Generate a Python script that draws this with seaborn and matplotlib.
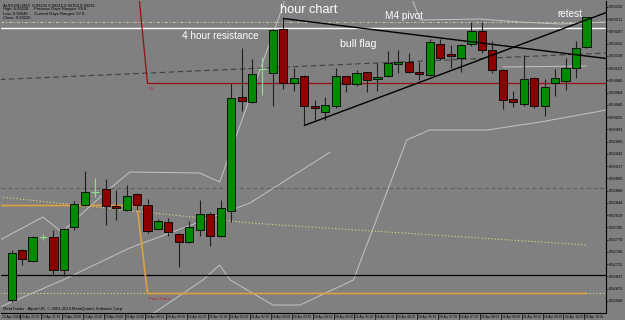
import numpy as np
import pandas as pd
import matplotlib
matplotlib.use("Agg")
import matplotlib.pyplot as plt
import matplotlib.transforms as mtransforms
import seaborn as sns

# AUDUSD M15, 23 Apr 20:45 -> 24 Apr 10:30
opens = [0.92650, 0.92750, 0.92727, 0.92775, 0.92775, 0.92709, 0.92795, 0.92840,
         0.92866, 0.92872, 0.92836, 0.92830, 0.92862, 0.92839, 0.92791, 0.92805,
         0.92781, 0.92765, 0.92789, 0.92822, 0.92778, 0.92827, 0.93055, 0.93045,
         0.93111, 0.93103, 0.93192, 0.93085, 0.93098, 0.93037, 0.93025, 0.93037,
         0.93097, 0.93082, 0.93105, 0.93091, 0.93097, 0.93121, 0.93126, 0.93105,
         0.93099, 0.93162, 0.93139, 0.93133, 0.93161, 0.93188, 0.93150, 0.93110,
         0.93051, 0.93042, 0.93093, 0.93037, 0.93083, 0.93087, 0.93113, 0.93155]
highs = [0.92750, 0.92752, 0.92777, 0.92782, 0.92789, 0.92793, 0.92847, 0.92908,
         0.92894, 0.92891, 0.92869, 0.92880, 0.92864, 0.92852, 0.92812, 0.92813,
         0.92783, 0.92808, 0.92850, 0.92826, 0.92850, 0.93085, 0.93153, 0.93131,
         0.93135, 0.93192, 0.93213, 0.93113, 0.93100, 0.93050, 0.93055, 0.93113,
         0.93098, 0.93110, 0.93106, 0.93123, 0.93147, 0.93150, 0.93143, 0.93125,
         0.93173, 0.93171, 0.93160, 0.93162, 0.93207, 0.93205, 0.93167, 0.93112,
         0.93067, 0.93140, 0.93095, 0.93092, 0.93111, 0.93133, 0.93167, 0.93216]
lows = [0.92646, 0.92720, 0.92725, 0.92769, 0.92697, 0.92697, 0.92790, 0.92838,
        0.92856, 0.92800, 0.92809, 0.92828, 0.92830, 0.92783, 0.92790, 0.92778,
        0.92715, 0.92763, 0.92778, 0.92757, 0.92776, 0.92805, 0.93028, 0.93044,
        0.93060, 0.93037, 0.93072, 0.93067, 0.93000, 0.93010, 0.93010, 0.93033,
        0.93065, 0.93077, 0.93065, 0.93068, 0.93095, 0.93103, 0.93103, 0.93089,
        0.93097, 0.93130, 0.93113, 0.93105, 0.93157, 0.93143, 0.93103, 0.93031,
        0.93036, 0.93038, 0.93033, 0.93017, 0.93057, 0.93069, 0.93093, 0.93154]
closes = [0.92743, 0.92731, 0.92775, 0.92775, 0.92709, 0.92791, 0.92841, 0.92865,
          0.92866, 0.92837, 0.92833, 0.92857, 0.92840, 0.92788, 0.92808, 0.92785,
          0.92765, 0.92795, 0.92822, 0.92778, 0.92834, 0.93053, 0.93048, 0.93101,
          0.93111, 0.93190, 0.93085, 0.93093, 0.93037, 0.93033, 0.93039, 0.93098,
          0.93081, 0.93103, 0.93089, 0.93095, 0.93123, 0.93126, 0.93105, 0.93102,
          0.93165, 0.93133, 0.93137, 0.93160, 0.93188, 0.93149, 0.93109, 0.93051,
          0.93045, 0.93091, 0.93037, 0.93075, 0.93093, 0.93113, 0.93153, 0.93215]

date_labels = ["23 Apr 21:00", "23 Apr 21:30", "23 Apr 22:00", "23 Apr 22:30",
               "23 Apr 23:00", "23 Apr 23:30", "24 Apr 00:00", "24 Apr 00:30",
               "24 Apr 01:00", "24 Apr 01:30", "24 Apr 02:00", "24 Apr 02:30",
               "24 Apr 03:00", "24 Apr 03:30", "24 Apr 04:00", "24 Apr 04:30",
               "24 Apr 05:00", "24 Apr 05:30", "24 Apr 06:00", "24 Apr 06:30",
               "24 Apr 07:00", "24 Apr 07:30", "24 Apr 08:00", "24 Apr 08:30",
               "24 Apr 09:00", "24 Apr 09:30", "24 Apr 10:00", "24 Apr 10:30"]
date_bars = list(range(1, 56, 2))

# indicator / drawing lines as (bar, price) vertices
upper_band_a = [(-1.12, 0.92770), (3.0, 0.92816), (4.8, 0.92786), (8.9, 0.92864),
                (11.3, 0.92906), (18.0, 0.92904), (19.9, 0.92886), (26.0, 0.93240),
                (26.8, 0.93330)]
upper_band_b = [(37.6, 0.93290), (39.1, 0.93210), (44.8, 0.93212), (48.6, 0.93206),
                (52.5, 0.93202), (56.9, 0.93206)]
lower_band = [(12.9, 0.92614), (18.3, 0.92690), (19.9, 0.92720), (20.9, 0.92690),
              (25.0, 0.92640), (27.6, 0.92640), (32.7, 0.92690), (37.8, 0.92970),
              (40.0, 0.92990), (45.5, 0.92990), (50.6, 0.93006), (56.9, 0.93030)]
mid_band = [(47.0, 0.93116), (55.0, 0.93118)]
slow_ma = [(-1.12, 0.92636), (4.9, 0.92690), (11.3, 0.92754), (22.8, 0.92844),
           (30.5, 0.92946)]
yellow_dots = [(-1.12, 0.92856), (22.8, 0.92804), (55.0, 0.92760)]
pivot_old = [(-1.12, 0.92839), (12, 0.92839), (13, 0.92663), (55, 0.92663)]
r1_line = [(12, 0.93296), (13, 0.93083), (56.9, 0.93083)]
flag_top = [(26, 0.93213), (56.9, 0.93133)]
flag_bottom = [(28, 0.92999), (56.9, 0.93225)]
regression = [(-1.12, 0.93091), (56.9, 0.93144)]

resistance = 0.93195
ask_level = 0.93205
mid_level = 0.92873
support = 0.92699
pivot_level = 0.92663

price_ticks = [0.93236, 0.93211, 0.93187, 0.93162, 0.93138, 0.93113, 0.93089,
               0.93064, 0.93040, 0.93015, 0.92991, 0.92966, 0.92942, 0.92917,
               0.92893, 0.92868, 0.92844, 0.92819, 0.92795, 0.92770, 0.92746,
               0.92721, 0.92697, 0.92672, 0.92648]

sns.set_theme(style="dark")
plt.rcParams["font.family"] = ["Liberation Sans", "DejaVu Sans"]

BG = "#808080"
fig = plt.figure(figsize=(6.25, 3.2), dpi=100, facecolor=BG)
ax = fig.add_axes([1 / 625, 7 / 320, 605 / 625, 312 / 320])
ax.set_facecolor(BG)

df = pd.DataFrame({"o": opens, "h": highs, "l": lows, "c": closes})
df["bar"] = np.arange(len(df))


def path(pts, **kw):
    xs, ys = zip(*pts)
    ax.plot(xs, ys, **kw)


# light indicator lines
for seg in (upper_band_a, upper_band_b, lower_band, mid_band, slow_ma):
    path(seg, color="#c4c4c4", lw=0.7, zorder=1)
path(yellow_dots, color="#e6dc7a", lw=0.8, ls=(0, (1, 2)), zorder=1)

ax.axhline(mid_level, color="#5a5a5a", lw=0.7, ls=(0, (4, 3)), zorder=1)
ax.axhline(support, color="black", lw=0.9, zorder=1)
ax.axhline(resistance, color="white", lw=1.0, zorder=1)
ax.axhline(ask_level, color="#d2c3a8", lw=0.7, ls=(0, (3, 2, 1, 2)), zorder=1)
path(regression, color="#404040", lw=0.8, ls=(0, (5, 3)), zorder=1)
path(r1_line, color="#9a1010", lw=0.9, zorder=1)
ax.plot([-1.12, 13], [pivot_level, pivot_level], color="#e6dc7a", lw=0.8,
        ls=(0, (1, 2)), zorder=1)
path(pivot_old, color="#e0a040", lw=1.2, zorder=2)
ax.plot([55, 56.9], [pivot_level, pivot_level], color="#c8e080", lw=0.8,
        ls=(0, (1, 2)), zorder=1)

# candles
w = 0.78
for r in df.itertuples():
    if abs(r.c - r.o) < 1e-6:
        ax.vlines(r.bar, r.l, r.h, color="#90e090", lw=0.8, zorder=3)
        ax.hlines(r.o, r.bar - w / 2, r.bar + w / 2, color="#90e090", lw=0.8, zorder=3)
        continue
    col = "#008a00" if r.c > r.o else "#8c0000"
    ax.vlines(r.bar, r.l, r.h, color="#202020", lw=0.8, zorder=3)
    bot = min(r.o, r.c)
    hgt = max(abs(r.c - r.o), 0.00004)
    ax.bar(r.bar, hgt, bottom=bot, width=w, color=col, edgecolor="black",
           lw=0.6, zorder=4)

path(flag_top, color="black", lw=1.0, zorder=5)
path(flag_bottom, color="black", lw=1.0, zorder=5)

ax.set_xlim(-1.02, 56.87)
ax.set_ylim(0.92624, 0.93248)

# annotations
txt = dict(color="white", zorder=6)
ax.text(28.4, 0.93230, "hour chart", fontsize=9.2, ha="center", va="center", **txt)
ax.text(20.0, 0.93178, "4 hour resistance", fontsize=7.2, ha="center", va="center", **txt)
ax.text(37.5, 0.93217, "M4 pivot", fontsize=7.2, ha="center", va="center", **txt)
ax.text(33.2, 0.93161, "bull flag", fontsize=7.6, ha="center", va="center", **txt)
ax.text(53.4, 0.93222, "retest", fontsize=7.2, ha="center", va="center", **txt)
ax.text(13.1, 0.93076, "R1", fontsize=3.2, color="#c02020", va="top", zorder=6)
ax.text(13.1, 0.92656, "Pivot Point", fontsize=3.2, color="#c02020", va="top", zorder=6)

header = ["AUDUSD,M15  0.93155 0.93216 0.93154 0.93215",
          "High: 0.93216     Previous Days Ranges: 69.8",
          "Low: 0.92646      Current Days Ranges: 57.0",
          "Close: 0.93215"]
for k, line in enumerate(header):
    ax.text(0.003, 0.993 - k * 0.0135, line, transform=ax.transAxes, fontsize=3.0,
            color="black", va="top", ha="left", zorder=6)
ax.text(0.003, 0.008, "MetaTrader - Alpari UK, \u00a9 2001-2014 MetaQuotes Software Corp.",
        transform=ax.transAxes, fontsize=3.0, color="black", va="bottom", zorder=6)

# axes look
for s in ax.spines.values():
    s.set_visible(True)
    s.set_color("black")
    s.set_linewidth(0.8)
ax.spines["top"].set_visible(False)
ax.spines["left"].set_visible(False)
ax.grid(False)
ax.yaxis.tick_right()
ax.set_yticks(price_ticks)
ax.set_yticklabels([f"{p:.5f}" for p in price_ticks])
ax.tick_params(axis="y", which="both", right=True, length=1.5, width=0.5, color="black",
               labelsize=2.9, labelcolor="black", pad=0.8)
ax.set_xticks([])
trans = mtransforms.blended_transform_factory(ax.transData, ax.transAxes)
ax.text(-0.95, -0.006, "23 Apr 2014", transform=trans, fontsize=2.4, va="top",
        ha="left", color="black", clip_on=False)
for b, lab in zip(date_bars, date_labels):
    ax.plot([b - 0.2, b - 0.2], [0, -0.02], transform=trans, color="black", lw=0.5,
            clip_on=False)
    ax.text(b - 0.1, -0.006, lab, transform=trans, fontsize=2.3, va="top", ha="left",
            color="black", clip_on=False)

fig.savefig("out.png", dpi=100, facecolor=BG)
